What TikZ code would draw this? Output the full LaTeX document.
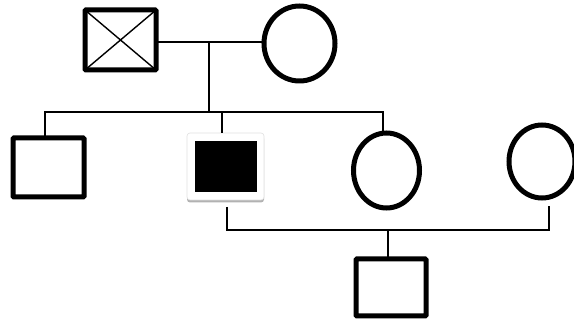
\documentclass[tikz,border=0pt]{standalone}
\usetikzlibrary{shapes.geometric,shadows}
\begin{document}
\begin{tikzpicture}[x=1pt,y=-1pt,
  male/.style={draw, line width=5pt, rounded corners=1pt, minimum width=71pt, minimum height=60pt, inner sep=0pt, outer sep=0pt},
  female/.style={draw, ellipse, line width=5pt, inner sep=0pt, outer sep=0pt},
  link/.style={line width=1.5pt},
  affbox/.style={draw=black!12, fill=white, line width=0.6pt, rounded corners=3pt, minimum width=77pt, minimum height=67pt, inner sep=0pt, outer sep=0pt,
    drop shadow={shadow xshift=0pt, shadow yshift=-2.5pt, opacity=0.3, fill=black}},
  affill/.style={fill=black, minimum width=62pt, minimum height=51pt, inner sep=0pt, outer sep=0pt}]
\useasboundingbox (0,0) rectangle (574,320);

% generation I
\node[male] (gf) at (120.5,40) {};
\draw[line width=1.4pt] (gf.north west) -- (gf.south east) (gf.north east) -- (gf.south west);
\node[female, minimum width=71pt, minimum height=75pt] (gm) at (299.5,43.5) {};
\coordinate (mar) at (209,42);
\coordinate (sib) at (209,112);
\draw[link] (gf.east |- mar) -- (gm.west |- mar);
\draw[link] (mar) -- (sib);

% generation II
\node[male, minimum height=59pt] (s1) at (48.5,167.5) {};
\node[affbox] (a) at (225.5,166.5) {};
\node[affill] (ab) at (226,166.5) {};
\node[female, minimum width=66pt, minimum height=75pt] (s2) at (386.5,170.5) {};
\node[female, minimum width=66pt, minimum height=73pt] (w) at (542,161.5) {};

\coordinate (b1) at (45,112);
\coordinate (b2) at (222,112);
\coordinate (b3) at (383,112);
\draw[link] (s1.north -| b1) -- (b1) -- (b3) -- (b3 |- s2.north);
\draw[link] (b2) -- (b2 |- a.north);

% generation III
\coordinate (ma) at (227,207);
\coordinate (mw) at (549,206);
\coordinate (mb) at (388,230);
\draw[link] (ma) -- (ma |- mb) -- (mw |- mb) -- (mw);
\node[male, minimum width=70pt, minimum height=57pt] (c) at (391,287.5) {};
\draw[link] (mb) -- (mb |- c.north);
\end{tikzpicture}
\end{document}
